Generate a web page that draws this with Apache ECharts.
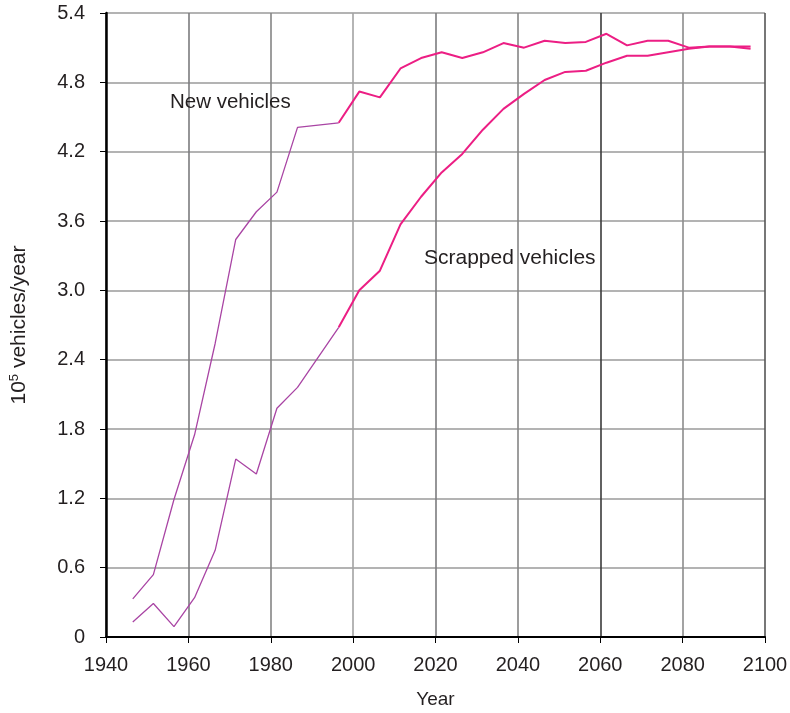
<!DOCTYPE html>
<html>
<head>
<meta charset="utf-8">
<script src="https://cdn.jsdelivr.net/npm/echarts@6/dist/echarts.min.js"></script>
<style>
  html, body { margin: 0; padding: 0; background: #fff; }
  #chart { width: 790px; height: 713px; }
</style>
</head>
<body>
<div id="chart"></div>
<script>
// Five-year sample points (mid-year), 1946.5 … 2096.5
const years = [
  1946.5, 1951.5, 1956.5, 1961.5, 1966.5, 1971.5, 1976.5, 1981.5, 1986.5, 1991.5,
  1996.5, 2001.5, 2006.5, 2011.5, 2016.5, 2021.5, 2026.5, 2031.5, 2036.5, 2041.5,
  2046.5, 2051.5, 2056.5, 2061.5, 2066.5, 2071.5, 2076.5, 2081.5, 2086.5, 2091.5,
  2096.5
];

// Historical record, 1946.5 … 1996.5 (10^5 vehicles/year)
const newHistorical   = [0.33, 0.54, 1.19, 1.75, 2.54, 3.44, 3.68, 3.85, 4.41, 4.43, 4.45];
const scrapHistorical = [0.13, 0.29, 0.09, 0.34, 0.75, 1.54, 1.41, 1.98, 2.16, 2.42, 2.68];

// Projection, 1996.5 … 2096.5
const newProjected = [
  4.45, 4.72, 4.67, 4.92, 5.01, 5.06, 5.01, 5.06, 5.14, 5.10,
  5.16, 5.14, 5.15, 5.22, 5.12, 5.16, 5.16, 5.10, 5.11, 5.11, 5.09
];
const scrapProjected = [
  2.68, 3.00, 3.17, 3.57, 3.81, 4.02, 4.18, 4.39, 4.57, 4.70,
  4.82, 4.89, 4.90, 4.97, 5.03, 5.03, 5.06, 5.09, 5.11, 5.11, 5.11
];

const histYears = years.slice(0, newHistorical.length);
const projYears = years.slice(newHistorical.length - 1);

const pair = (xs, ys) => ys.map((v, i) => [xs[i], v]);

const FONT = '"Liberation Sans", Arial, Helvetica, sans-serif';
const TEXT = '#231f20';
const PURPLE = '#a945a4';
const PINK = '#ec1e84';

// Vertical grid colours, one per x tick (1940 … 2100)
const vGridColors = ['#808080', '#7b7b7e', '#858585', '#a3a3a3', '#7b7b7e', '#858585', '#3a3a3a', '#8c8c8c', '#555555'];

const chart = echarts.init(document.getElementById('chart'), null, { renderer: 'canvas' });

chart.setOption({
  animation: false,
  backgroundColor: '#ffffff',
  grid: { left: 106, right: 25, top: 13, bottom: 76, containLabel: false, outerBoundsMode: 'none' },
  xAxis: {
    type: 'value',
    min: 1940,
    max: 2100,
    interval: 20,
    name: 'Year',
    nameLocation: 'middle',
    nameGap: 53,
    nameTextStyle: { color: TEXT, fontFamily: FONT, fontSize: 19 },
    axisLine: { show: true, onZero: false, lineStyle: { color: '#000', width: 2 } },
    axisTick: { show: true, inside: false, length: 6, lineStyle: { color: '#000', width: 1 } },
    axisLabel: { color: TEXT, fontFamily: FONT, fontSize: 20, margin: 18, formatter: v => String(v) },
    splitLine: { show: true, lineStyle: { color: vGridColors, width: 1.6 } }
  },
  yAxis: {
    type: 'value',
    min: 0,
    max: 5.4,
    interval: 0.6,
    name: '{n|10}{s|5}{n| vehicles/year}',
    nameLocation: 'middle',
    nameGap: 76,
    nameTextStyle: {
      rich: {
        n: { color: TEXT, fontFamily: FONT, fontSize: 21 },
        s: { color: TEXT, fontFamily: FONT, fontSize: 13, verticalAlign: 'top', padding: [0, 0, 9, 0] }
      }
    },
    axisLine: { show: true, lineStyle: { color: '#000', width: 2.5 } },
    axisTick: { show: true, inside: false, length: 6, lineStyle: { color: '#000', width: 1 } },
    axisLabel: {
      color: TEXT, fontFamily: FONT, fontSize: 20, margin: 21,
      formatter: v => (Math.abs(v) < 1e-9 ? '0' : v.toFixed(1))
    },
    splitLine: { show: true, lineStyle: { color: '#9a9a9a', width: 1.6 } }
  },
  series: [
    {
      name: 'New vehicles (historical)', type: 'line', data: pair(histYears, newHistorical),
      symbol: 'none', lineStyle: { color: PURPLE, width: 1.3 }, z: 3
    },
    {
      name: 'Scrapped vehicles (historical)', type: 'line', data: pair(histYears, scrapHistorical),
      symbol: 'none', lineStyle: { color: PURPLE, width: 1.3 }, z: 3
    },
    {
      name: 'New vehicles (projected)', type: 'line', data: pair(projYears, newProjected),
      symbol: 'none', lineStyle: { color: PINK, width: 2 }, z: 3
    },
    {
      name: 'Scrapped vehicles (projected)', type: 'line', data: pair(projYears, scrapProjected),
      symbol: 'none', lineStyle: { color: PINK, width: 2 }, z: 3
    }
  ],
  graphic: [
    {
      type: 'text', x: 170, y: 102, z: 10,
      style: { text: 'New vehicles', fill: TEXT, font: '20.5px ' + FONT, align: 'left', verticalAlign: 'middle' }
    },
    {
      type: 'text', x: 424, y: 258, z: 10,
      style: { text: 'Scrapped vehicles', fill: TEXT, font: '21px ' + FONT, align: 'left', verticalAlign: 'middle' }
    }
  ]
});
</script>
</body>
</html>
